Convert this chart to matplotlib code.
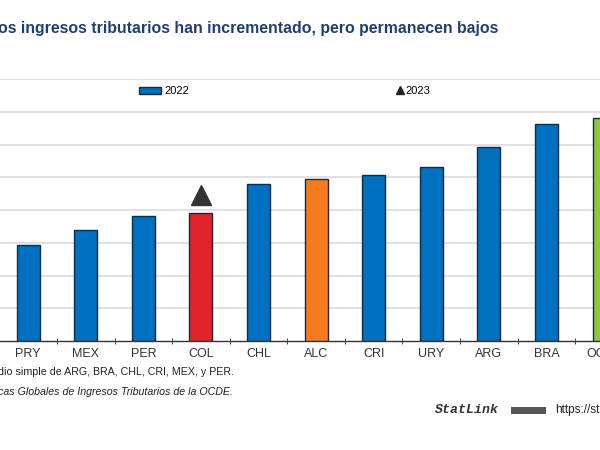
import matplotlib
matplotlib.use('Agg')
from matplotlib import pyplot as plt
from matplotlib.patches import Patch, Rectangle
from matplotlib.lines import Line2D

# datos (% del PIB)
paises = ['PRY', 'MEX', 'PER', 'COL', 'CHL', 'ALC', 'CRI', 'URY', 'ARG', 'BRA', 'OCDE']
valores_2022 = [14.7, 16.9, 19.1, 19.6, 23.9, 24.7, 25.4, 26.5, 29.6, 33.2, 34.0]
colores = ['#0070C0', '#0070C0', '#0070C0', '#E2232A', '#0070C0', '#F47B20',
           '#0070C0', '#0070C0', '#0070C0', '#0070C0', '#8DC63F']
col_2023 = 22.3
yticks = [5, 10, 15, 20, 25, 30, 35, 40]

plt.rcParams['font.family'] = ['Liberation Sans', 'DejaVu Sans']

fig = plt.figure(figsize=(6, 4.5), dpi=100)
ax = fig.add_axes([0.0, 0.2422, 1.0, 0.5822])

x = list(range(len(paises)))
ax.bar(x, valores_2022, width=0.4, color=colores, edgecolor='#1b2a3a', linewidth=1.0, zorder=3)
ax.plot([paises.index('COL')], [col_2023], marker='^', color='#333333', markersize=14,
        linestyle='none', zorder=4)

ax.set_yticks(yticks)
ax.yaxis.grid(True, color='#dcdcdc', linewidth=1.2, zorder=0)
ax.tick_params(axis='y', left=False, labelleft=False)
ax.set_xticks(x)
ax.set_xticklabels(paises, fontsize=9, color='#333333')
ax.tick_params(axis='x', length=0, pad=5)
ax.set_xticks([i + 0.5 for i in range(-1, len(paises))], minor=True)
ax.tick_params(axis='x', which='minor', length=4, direction='inout', color='#333333')
ax.set_xlim(-0.49, 9.93)
ax.set_ylim(0, 40)
for s in ['left', 'right', 'top']:
    ax.spines[s].set_visible(False)
ax.spines['bottom'].set_color('#333333')
ax.spines['bottom'].set_linewidth(1.0)

# la etiqueta de OCDE queda fuera del recorte: se dibuja aparte
ax.annotate(paises[-1], xy=(len(paises) - 1, 0), xycoords=('data', 'axes fraction'),
            xytext=(0, -5), textcoords='offset points', ha='center', va='top',
            fontsize=9, color='#333333', annotation_clip=False)

h1 = Patch(facecolor='#0070C0', edgecolor='#1b2a3a', linewidth=1.0)
h2 = Line2D([], [], marker='^', color='#222222', linestyle='none', markersize=6)
fig.legend([h1], ['2022'], loc='center left', bbox_to_anchor=(0.215, 0.797),
           frameon=False, fontsize=8, handlelength=2.0, handleheight=0.6,
           handletextpad=0.3)
fig.legend([h2], ['2023'], loc='center left', bbox_to_anchor=(0.645, 0.797),
           frameon=False, fontsize=8, handlelength=0.5, handletextpad=0.3)

fig.text(-0.003, 0.937, 'os ingresos tributarios han incrementado, pero permanecen bajos',
         fontsize=11.4, fontweight='bold', color='#1F3F73', va='center', ha='left')
fig.text(-0.003, 0.174, 'dio simple de ARG, BRA, CHL, CRI, MEX, y PER.',
         fontsize=7.7, color='#222222', va='center', ha='left')
fig.text(-0.003, 0.129, 'cas Globales de Ingresos Tributarios de la OCDE.',
         fontsize=7.7, color='#222222', style='italic', va='center', ha='left')
fig.text(0.725, 0.088, 'StatLink', fontsize=9.5, family='Liberation Mono',
         fontweight='bold', style='italic', color='#333333', va='center', ha='left')
fig.patches.append(Rectangle((0.852, 0.081), 0.058, 0.015, transform=fig.transFigure,
                             facecolor='#555555', edgecolor='none'))
fig.text(0.925, 0.088, 'https://st', fontsize=8.5, color='#222222', va='center', ha='left')

plt.savefig('out.png', dpi=100)
